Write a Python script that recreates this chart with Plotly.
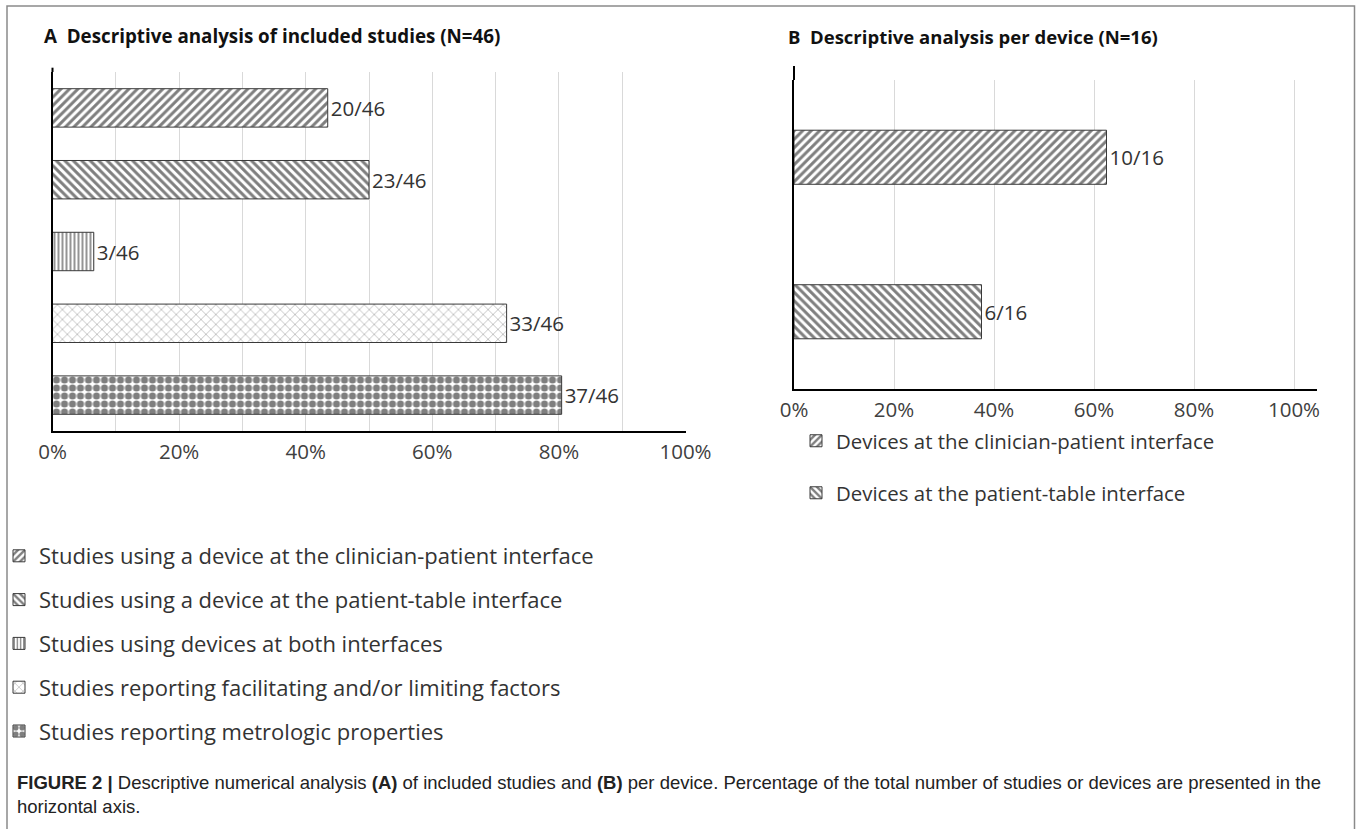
import plotly.graph_objects as go

W, H = 1357, 829

# ---------------- data ----------------
a_labels = [
    "Studies using a device at the clinician-patient interface",
    "Studies using a device at the patient-table interface",
    "Studies using devices at both interfaces",
    "Studies reporting facilitating and/or limiting factors",
    "Studies reporting metrologic properties",
]
a_counts = [20, 23, 3, 33, 37]
a_total = 46

b_labels = [
    "Devices at the clinician-patient interface",
    "Devices at the patient-table interface",
]
b_counts = [10, 6]
b_total = 16

x_ticks = [0, 0.2, 0.4, 0.6, 0.8, 1.0]
x_ticktext = ["0%", "20%", "40%", "60%", "80%", "100%"]

# pattern styles (shape, size, solidity, fg colour)
a_patterns = [
    dict(shape="/", size=6, solidity=0.5, fgcolor="black"),
    dict(shape="\\", size=6, solidity=0.5, fgcolor="black"),
    dict(shape="|", size=4, solidity=0.42, fgcolor="black"),
    dict(shape="x", size=7, solidity=0.18, fgcolor="#505050"),
    dict(shape=".", size=8, solidity=0.62, fgcolor="black"),
]
b_patterns = a_patterns[:2]


def px(x):
    return x / W


def py(y):
    return 1 - y / H


FONT = "Open Sans, Lato, DejaVu Sans, sans-serif"
TXT = "#333333"

fig = go.Figure()

for i, (lab, c) in enumerate(zip(a_labels, a_counts)):
    p = a_patterns[i]
    fig.add_trace(go.Bar(
        y=[f"a{i}"], x=[c / a_total], orientation="h",
        name=lab, legend="legend", legendgroup=f"a{i}",
        width=0.535,
        marker=dict(color="white", line=dict(color="#3a3a3a", width=1),
                    pattern=dict(shape=p["shape"], size=p["size"], solidity=p["solidity"],
                                 fgcolor=p["fgcolor"], bgcolor="white", fillmode="overlay")),
        text=[f"{c}/{a_total}"], textposition="outside", cliponaxis=False,
        textfont=dict(family=FONT, size=20.5, color=TXT),
        xaxis="x", yaxis="y", hoverinfo="skip",
    ))

for i, (lab, c) in enumerate(zip(b_labels, b_counts)):
    p = b_patterns[i]
    fig.add_trace(go.Bar(
        y=[f"b{i}"], x=[c / b_total], orientation="h",
        name=lab, legend="legend2", legendgroup=f"b{i}",
        width=0.35,
        marker=dict(color="white", line=dict(color="#3a3a3a", width=1),
                    pattern=dict(shape=p["shape"], size=p["size"], solidity=p["solidity"],
                                 fgcolor=p["fgcolor"], bgcolor="white", fillmode="overlay")),
        text=[f"{c}/{b_total}"], textposition="outside", cliponaxis=False,
        textfont=dict(family=FONT, size=20.5, color=TXT),
        xaxis="x2", yaxis="y2", hoverinfo="skip",
    ))

xcommon = dict(
    tickvals=x_ticks, ticktext=x_ticktext, showgrid=True, gridcolor="#d9d9d9", gridwidth=1,
    showline=True, linecolor="black", linewidth=2, ticks="", zeroline=False, automargin=False,
    tickfont=dict(family=FONT, size=20.5, color="#404040"), fixedrange=True,
    ticklabelstandoff=1,
)
ycommon = dict(
    showline=True, linecolor="black", linewidth=2, showgrid=False, showticklabels=False,
    ticks="", autorange="reversed", zeroline=False, fixedrange=True, type="category",
    automargin=False,
)

fig.update_layout(
    template="none",
    width=W, height=H,
    margin=dict(l=0, r=0, t=0, b=0, pad=0, autoexpand=False),
    paper_bgcolor="white", plot_bgcolor="white",
    barmode="overlay",
    showlegend=True,
    xaxis=dict(domain=[px(52.5), px(685.5)], range=[0, 1], anchor="y",
               minor=dict(dtick=0.1, tick0=0, showgrid=True, gridcolor="#d9d9d9", ticks=""),
               **xcommon),
    yaxis=dict(domain=[py(431), py(72)], anchor="x", **ycommon),
    xaxis2=dict(domain=[px(794), px(1317)], range=[0, 1.046], anchor="y2", **xcommon),
    yaxis2=dict(domain=[py(389), py(80)], anchor="x2", **ycommon),
    legend=dict(x=px(-1), xanchor="left", y=py(535), yanchor="top",
                font=dict(family=FONT, size=22, color=TXT), tracegroupgap=12.2,
                bgcolor="rgba(0,0,0,0)", traceorder="grouped", borderwidth=0),
    legend2=dict(x=px(796), xanchor="left", y=py(421), yanchor="top",
                 font=dict(family=FONT, size=20.4, color=TXT), tracegroupgap=22.5,
                 bgcolor="rgba(0,0,0,0)", traceorder="grouped", borderwidth=0),
)

# titles
fig.add_annotation(text="<b>A\u00a0\u00a0Descriptive analysis of included studies (N=46)</b>",
                   x=px(42), y=py(36), xref="paper", yref="paper", xanchor="left", yanchor="middle",
                   showarrow=False, font=dict(family=FONT, size=18.8, color="#111111"))
fig.add_annotation(text="<b>B\u00a0\u00a0Descriptive analysis per device (N=16)</b>",
                   x=px(786), y=py(36), xref="paper", yref="paper", xanchor="left", yanchor="middle",
                   showarrow=False, font=dict(family=FONT, size=18.5, color="#111111"))

# caption
fig.add_annotation(
    text=("<b>FIGURE 2 |</b> Descriptive numerical analysis <b>(A)</b> of included studies and "
          "<b>(B)</b> per device. Percentage of the total number of studies or devices are presented in the"
          "<br>horizontal axis."),
    x=px(15), y=py(770), xref="paper", yref="paper", xanchor="left", yanchor="top", align="left",
    showarrow=False, font=dict(family="Liberation Sans, Arial, sans-serif",
                               size=18.5, color="#222222"))

# y-axis line extension above gridlines
fig.add_shape(type="line", xref="x domain", yref="y domain", x0=0, x1=0, y0=1, y1=1.012,
              line=dict(color="black", width=2))
fig.add_shape(type="line", xref="x2 domain", yref="y2 domain", x0=0, x1=0, y0=1, y1=1.045,
              line=dict(color="black", width=2))

# figure frame (left, top, right)
fig.add_shape(type="path", xref="paper", yref="paper",
              path=f"M {px(7)},0 L {px(7)},{py(6)} L {px(1354.5)},{py(6)} L {px(1354.5)},0",
              line=dict(color="#8a8a8a", width=1.5))

fig.write_html("out.html", config={"displayModeBar": False},
               post_script="document.body.style.margin='0';")
